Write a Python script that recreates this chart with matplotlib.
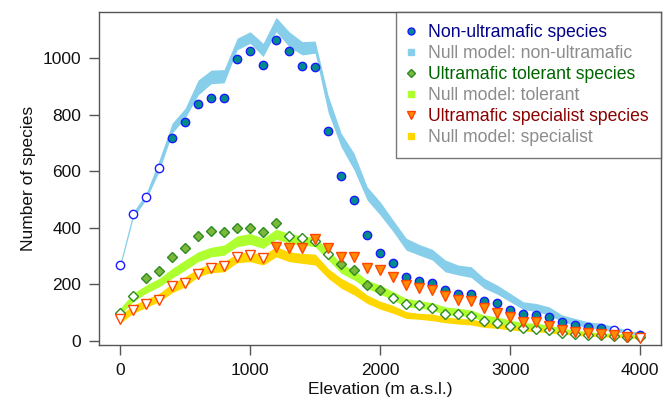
import numpy as np
import matplotlib
matplotlib.use("Agg")
import matplotlib.pyplot as plt
from matplotlib.lines import Line2D

plt.rcParams['font.family'] = ['Liberation Sans', 'DejaVu Sans']

# elevation bins (m a.s.l.)
elevation = np.array([0, 100, 200, 300, 400, 500, 600, 700, 800, 900,
                      1000, 1100, 1200, 1300, 1400, 1500, 1600, 1700, 1800, 1900,
                      2000, 2100, 2200, 2300, 2400, 2500, 2600, 2700, 2800, 2900,
                      3000, 3100, 3200, 3300, 3400, 3500, 3600, 3700, 3800, 3900,
                      4000])

# observed species counts
non_ultramafic = np.array([267, 450, 510, 612, 717, 773, 839, 860, 860, 996,
                           1026, 976, 1066, 1025, 973, 968, 741, 583, 500, 373,
                           310, 275, 224, 210, 203, 178, 164, 166, 142, 133,
                           109, 95, 92, 85, 65, 57, 47, 44, 38, 28,
                           20])
tolerant = np.array([100, 159, 221, 247, 295, 329, 372, 388, 386, 399,
                     399, 385, 416, 372, 363, 354, 308, 273, 252, 197,
                     180, 151, 130, 126, 115, 95, 95, 89, 69, 62,
                     52, 44, 40, 38, 26, 23, 20, 20, 17, 14,
                     12])
specialist = np.array([76, 109, 129, 144, 194, 205, 235, 256, 266, 297,
                       303, 292, 331, 329, 329, 359, 327, 297, 296, 256,
                       250, 224, 196, 187, 180, 159, 145, 142, 115, 97,
                       85, 67, 65, 53, 38, 32, 26, 23, 19, 14,
                       10])

# bins where observed richness is within the null envelope (open symbols)
non_ultramafic_open = [0, 100, 200, 300, 3800, 3900]
tolerant_open = [0, 100, 1300, 1400, 1500, 1600, 2100, 2200, 2300, 2400, 2500,
                 2600, 2700, 2800, 2900, 3000, 3100, 3200, 3300, 3400, 3500,
                 3600, 3700, 3800, 3900, 4000]
specialist_open = [0, 100, 200, 300, 400, 500, 600, 700, 800, 900, 1000, 1100, 4000]

# null model envelopes (lower, upper)
null_non_lo = np.array([258, 435, 500, 600, 735, 788, 870, 910, 913, 1030,
                        1053, 1006, 1094, 1041, 1012, 1018, 808, 686, 604, 498,
                        445, 386, 321, 303, 286, 244, 233, 224, 186, 165,
                        138, 111, 103, 91, 67, 56, 47, 40, 32, 26,
                        19])
null_non_hi = np.array([275, 455, 522, 640, 770, 823, 923, 958, 960, 1071,
                        1094, 1053, 1145, 1094, 1059, 1061, 868, 735, 663, 545,
                        492, 427, 363, 341, 324, 286, 268, 262, 221, 197,
                        168, 138, 132, 120, 91, 79, 67, 62, 50, 38,
                        28])
null_tol_lo = np.array([92, 138, 168, 191, 221, 250, 280, 297, 303, 333,
                        341, 327, 359, 345, 339, 333, 286, 239, 215, 185,
                        165, 144, 120, 115, 109, 91, 89, 85, 67, 62,
                        52, 46, 44, 38, 28, 24, 20, 17, 14, 12,
                        11])
null_tol_hi = np.array([115, 168, 197, 221, 256, 286, 315, 331, 339, 371,
                        380, 363, 395, 380, 371, 366, 321, 274, 250, 215,
                        197, 174, 150, 142, 135, 120, 115, 109, 91, 85,
                        73, 64, 62, 56, 44, 38, 32, 28, 26, 23,
                        20])
null_spe_lo = np.array([62, 97, 118, 138, 170, 191, 227, 241, 244, 276,
                        280, 268, 297, 280, 274, 268, 221, 186, 162, 132,
                        112, 97, 79, 76, 71, 64, 59, 56, 47, 44,
                        38, 34, 32, 28, 23, 19, 16, 14, 12, 10,
                        8])
null_spe_hi = np.array([91, 126, 147, 168, 203, 227, 256, 274, 280, 309,
                        315, 303, 333, 315, 309, 307, 256, 221, 197, 162,
                        140, 125, 103, 97, 95, 85, 79, 77, 67, 62,
                        56, 50, 47, 44, 35, 32, 26, 24, 22, 18,
                        16])

labels = ['Non-ultramafic species', 'Null model: non-ultramafic',
          'Ultramafic tolerant species', 'Null model: tolerant',
          'Ultramafic specialist species', 'Null model: specialist']
label_colors = ['#00008B', '#8C8C8C', '#006400', '#8C8C8C', '#8B0000', '#8C8C8C']

fig = plt.figure(figsize=(6.72, 4.16), dpi=100)
ax = fig.add_axes([0.1478, 0.1707, 0.8358, 0.8012])

# null model bands
ax.fill_between(elevation, null_non_lo, null_non_hi, color='#87CEEB', lw=0)
ax.fill_between(elevation, null_tol_lo, null_tol_hi, color='#ADFF2F', lw=0)
ax.fill_between(elevation, null_spe_lo, null_spe_hi, color='#FFD700', lw=0)


def draw_points(y, open_bins, marker, ms, fill, edge):
    is_open = np.isin(elevation, open_bins)
    ax.plot(elevation[~is_open], y[~is_open], ls='none', marker=marker, ms=ms,
            mfc=fill, mec=edge, mew=1.0)
    ax.plot(elevation[is_open], y[is_open], ls='none', marker=marker, ms=ms,
            mfc='white', mec=edge, mew=1.0)


draw_points(non_ultramafic, non_ultramafic_open, 'o', 6, '#008B8B', '#1A1AFF')
draw_points(tolerant, tolerant_open, 'D', 5.2, '#7CB83A', '#2E8B22')
draw_points(specialist, specialist_open, 'v', 6.5, '#FF8C00', '#FF4500')

ax.set_xlim(-160, 4160)
ax.set_ylim(-15, 1165)
ax.set_xticks([0, 1000, 2000, 3000, 4000])
ax.set_yticks([0, 200, 400, 600, 800, 1000])

for sp in ax.spines.values():
    sp.set_color('#555555')
    sp.set_linewidth(1.0)
ax.tick_params(axis='both', length=7, width=1, color='#555555',
               labelsize=12.5, labelcolor='#111111')
ax.tick_params(axis='x', pad=6)
ax.tick_params(axis='y', pad=6)

ax.set_xlabel('Elevation (m a.s.l.)', fontsize=12.5, color='#111111')
ax.set_ylabel('Number of species', fontsize=12.5, color='#111111')
ax.xaxis.set_label_coords(0.5, -0.112)
ax.yaxis.set_label_coords(-0.112, 0.5)

handles = [
    Line2D([], [], ls='none', marker='o', ms=5, mfc='#008B8B', mec='#1A1AFF'),
    Line2D([], [], ls='none', marker='s', ms=5, mfc='#87CEEB', mec='#87CEEB'),
    Line2D([], [], ls='none', marker='D', ms=4.5, mfc='#7CB83A', mec='#2E8B22'),
    Line2D([], [], ls='none', marker='s', ms=5, mfc='#ADFF2F', mec='#ADFF2F'),
    Line2D([], [], ls='none', marker='v', ms=6, mfc='#FF8C00', mec='#FF4500'),
    Line2D([], [], ls='none', marker='s', ms=5, mfc='#FFD700', mec='#FFD700'),
]
leg = ax.legend(handles, labels, loc='upper right', bbox_to_anchor=(1, 1),
                borderaxespad=0, fontsize=12.7, labelcolor=label_colors,
                frameon=True, fancybox=False, edgecolor='#555555',
                borderpad=0.68, labelspacing=0.227, handlelength=0.34,
                handletextpad=0.8)
leg.get_frame().set_linewidth(1.0)

fig.savefig('out.png', dpi=100)
